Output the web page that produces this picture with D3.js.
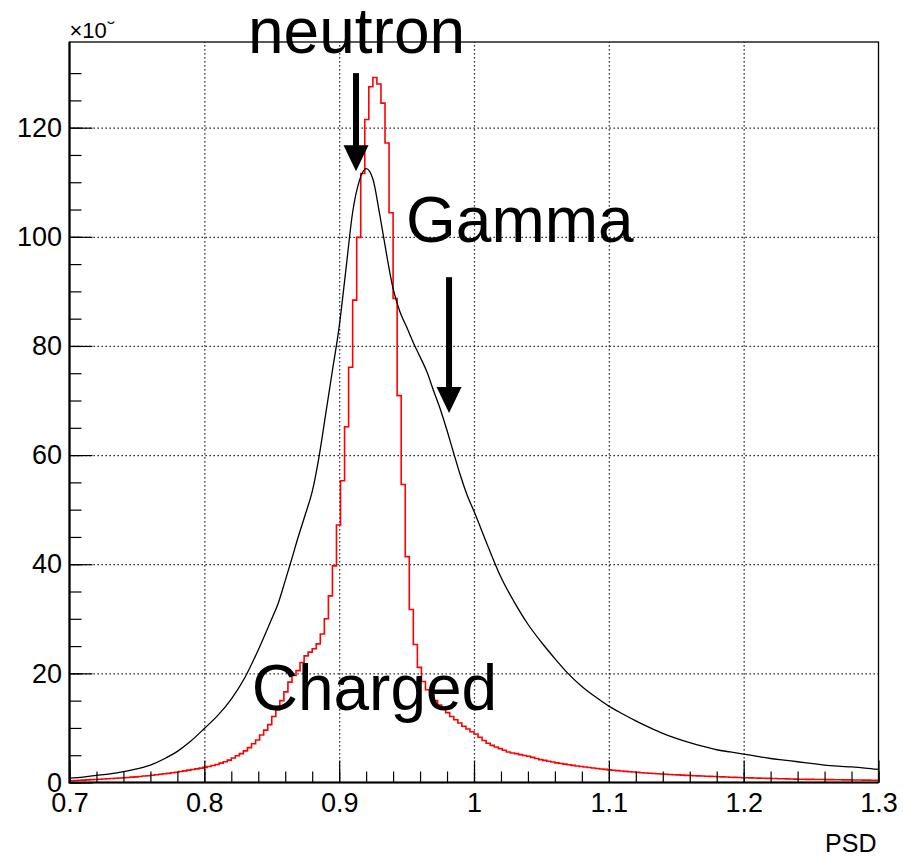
<!DOCTYPE html>
<html>
<head>
<meta charset="utf-8">
<script src="https://cdn.jsdelivr.net/npm/d3@7"></script>
<style>
  html, body { margin: 0; padding: 0; background: #fff; }
  svg { display: block; font-family: "Liberation Sans", Arial, Helvetica, sans-serif; }
</style>
</head>
<body>
<svg id="psd-chart"></svg>
<script>
// red histogram: 200 bins, 0.003 wide, starting at PSD = 0.7
const binStart = 0.7;
const binWidth = 0.003;
const chargedCounts = [
  0.33, 0.37, 0.41, 0.44, 0.48, 0.52, 0.56, 0.60, 0.64, 0.68,
  0.72, 0.77, 0.82, 0.87, 0.92, 0.98, 1.04, 1.11, 1.18, 1.25,
  1.33, 1.41, 1.50, 1.59, 1.68, 1.78, 1.89, 2.01, 2.13, 2.26,
  2.38, 2.50, 2.64, 2.78, 2.94, 3.11, 3.30, 3.55, 3.80, 4.10,
  4.50, 4.90, 5.30, 5.80, 6.40, 7.10, 7.80, 8.70, 9.60, 10.6,
  12.1, 13.3, 15.0, 16.6, 18.4, 19.6, 20.5, 22.0, 23.2, 23.9,
  24.5, 25.4, 27.2, 30.0, 34.2, 39.7, 47.2, 55.3, 65.2, 76.1,
  88.4, 99.9, 111.6, 121.5, 127.5, 129.2, 128.0, 124.5, 117.2, 104.4,
  88.7, 70.9, 54.6, 41.4, 31.7, 25.3, 21.1, 18.5, 17.0, 15.9,
  15.0, 14.2, 13.5, 12.8, 12.1, 11.5, 10.9, 10.3, 9.8, 9.3,
  8.9, 8.3, 7.7, 7.2, 6.8, 6.5, 6.2, 5.9, 5.6, 5.4,
  5.3, 5.1, 4.95, 4.8, 4.6, 4.4, 4.2, 4.05, 3.9, 3.75,
  3.6, 3.48, 3.36, 3.25, 3.14, 3.03, 2.93, 2.83, 2.74, 2.65,
  2.56, 2.48, 2.40, 2.32, 2.25, 2.18, 2.11, 2.04, 1.98, 1.92,
  1.86, 1.80, 1.75, 1.70, 1.65, 1.60, 1.55, 1.51, 1.47, 1.43,
  1.39, 1.35, 1.31, 1.27, 1.24, 1.21, 1.18, 1.15, 1.12, 1.09,
  1.06, 1.03, 1.00, 0.97, 0.94, 0.91, 0.88, 0.86, 0.84, 0.82,
  0.80, 0.78, 0.76, 0.74, 0.72, 0.70, 0.68, 0.66, 0.64, 0.62,
  0.60, 0.59, 0.58, 0.57, 0.56, 0.55, 0.54, 0.53, 0.52, 0.51,
  0.50, 0.49, 0.48, 0.47, 0.46, 0.45, 0.44, 0.43, 0.42, 0.41,
];

// black curve, read at these PSD values
const allPsd = [
  0.700, 0.710, 0.720, 0.730, 0.740, 0.750, 0.760, 0.770, 0.780, 0.790,
  0.800, 0.810, 0.820, 0.830, 0.840, 0.850, 0.855, 0.860, 0.865, 0.870,
  0.875, 0.880, 0.885, 0.890, 0.895, 0.900, 0.905, 0.910, 0.915, 0.920,
  0.925, 0.930, 0.935, 0.940, 0.945, 0.950, 0.955, 0.960, 0.965, 0.970,
  0.975, 0.980, 0.985, 0.990, 0.995, 1.000, 1.010, 1.020, 1.030, 1.040,
  1.050, 1.060, 1.070, 1.080, 1.090, 1.100, 1.110, 1.120, 1.130, 1.140,
  1.150, 1.160, 1.170, 1.180, 1.190, 1.200, 1.210, 1.220, 1.230, 1.240,
  1.250, 1.260, 1.270, 1.280, 1.290, 1.300,
];
const allCounts = [
  0.8, 1.0, 1.3, 1.6, 2.0, 2.5, 3.2, 4.3, 5.7, 7.6,
  9.9, 12.3, 15.3, 19.2, 24.3, 30.0, 33.0, 37.0, 41.1, 45.3,
  49.2, 53.3, 59.6, 67.5, 75.5, 83.5, 94.0, 104.5, 110.3, 112.5,
  110.6, 104.2, 97.0, 90.5, 86.3, 83.5, 80.6, 78.0, 75.3, 71.8,
  68.4, 64.5, 60.3, 56.2, 52.6, 49.7, 43.5, 37.6, 33.0, 29.0,
  25.7, 22.7, 19.9, 17.6, 15.7, 14.0, 12.6, 11.3, 10.1, 9.0,
  8.1, 7.3, 6.6, 6.0, 5.6, 5.2, 4.8, 4.4, 4.1, 3.8,
  3.5, 3.2, 3.0, 2.85, 2.65, 2.4,
];

const xMajorTicks = [0.7, 0.8, 0.9, 1.0, 1.1, 1.2, 1.3];
const xTickLabels = ["0.7", "0.8", "0.9", "1", "1.1", "1.2", "1.3"];
const yMajorTicks = [0, 20, 40, 60, 80, 100, 120];
const yTickLabels = ["0", "20", "40", "60", "80", "100", "120"];
const annotationLabels = ["neutron", "Gamma", "Charged"];

const width = 903;
const height = 860;
const margin = { top: 42, right: 24.5, bottom: 77.5, left: 69.5 };
const innerWidth = width - margin.left - margin.right;
const innerHeight = height - margin.top - margin.bottom;

const svg = d3.select("#psd-chart").attr("width", width).attr("height", height);
const chart = svg
  .append("g")
  .attr("transform", `translate(${margin.left},${margin.top})`);

const x = d3.scaleLinear().domain([0.7, 1.3]).range([0, innerWidth]);
const y = d3.scaleLinear().domain([0, 135.7]).range([innerHeight, 0]);

// lines only, no labels (grid and minor ticks)
const bareTicks = (g) => {
  g.select(".domain").remove();
  g.selectAll("text").remove();
};

// dotted grid
const gridStyle = (g) => {
  bareTicks(g);
  g.selectAll("line")
    .attr("stroke", "#000")
    .attr("stroke-width", 1.3)
    .attr("stroke-dasharray", "1.3,2.7");
};

chart
  .append("g")
  .attr("transform", `translate(0,${innerHeight})`)
  .call(d3.axisBottom(x).tickValues(xMajorTicks.slice(1, -1)).tickSize(-innerHeight))
  .call(gridStyle);

chart
  .append("g")
  .call(d3.axisLeft(y).tickValues(yMajorTicks.slice(1)).tickSize(-innerWidth))
  .call(gridStyle);

// charged histogram (steps)
const chargedBins = chargedCounts.map((count, i) => ({ psd: binStart + i * binWidth, count }));
chargedBins.push({
  psd: binStart + chargedCounts.length * binWidth,
  count: chargedCounts[chargedCounts.length - 1],
});

const stepLine = d3
  .line()
  .x(({ psd }) => x(psd))
  .y(({ count }) => y(count))
  .curve(d3.curveStepAfter);

chart
  .append("path")
  .datum(chargedBins)
  .attr("d", stepLine)
  .attr("fill", "none")
  .attr("stroke", "#ff0000")
  .attr("stroke-width", 1.6);

// all events curve
const allLine = d3
  .line()
  .x((d, i) => x(allPsd[i]))
  .y((d) => y(d))
  .curve(d3.curveMonotoneX);

chart
  .append("path")
  .datum(allCounts)
  .attr("d", allLine)
  .attr("fill", "none")
  .attr("stroke", "#000")
  .attr("stroke-width", 1.3);

// ticks
const tickStyle = (g) => {
  g.select(".domain").remove();
  g.selectAll("line").attr("stroke", "#000").attr("stroke-width", 1.2);
  g.selectAll("text").attr("fill", "#000").attr("font-size", 27).attr("font-family", null);
};

chart
  .append("g")
  .attr("transform", `translate(0,${innerHeight})`)
  .call(d3.axisBottom(x).tickValues(d3.range(0.7, 1.3001, 0.02)).tickSize(-11))
  .call(bareTicks)
  .call(tickStyle);

chart
  .append("g")
  .attr("transform", `translate(0,${innerHeight})`)
  .call(
    d3.axisBottom(x).tickValues(xMajorTicks).tickSize(-22).tickPadding(10)
      .tickFormat((d, i) => xTickLabels[i]),
  )
  .call(tickStyle);

chart
  .append("g")
  .call(d3.axisLeft(y).tickValues(d3.range(0, 135, 5)).tickSize(-12))
  .call(bareTicks)
  .call(tickStyle);

chart
  .append("g")
  .call(
    d3.axisLeft(y).tickValues(yMajorTicks).tickSize(-23).tickPadding(7.5)
      .tickFormat((d, i) => yTickLabels[i]),
  )
  .call(tickStyle);

// frame
chart
  .append("rect")
  .attr("width", innerWidth)
  .attr("height", innerHeight)
  .attr("fill", "none")
  .attr("stroke", "#000")
  .attr("stroke-width", 1.3);

chart
  .append("path")
  .attr("d", `M0,0V${innerHeight}H${innerWidth}`)
  .attr("fill", "none")
  .attr("stroke", "#000")
  .attr("stroke-width", 2.2);

// axis title and exponent
chart
  .append("text")
  .attr("x", innerWidth - 2)
  .attr("y", innerHeight + 69.5)
  .attr("text-anchor", "end")
  .attr("font-size", 25)
  .text("PSD");

svg
  .append("clipPath")
  .attr("id", "exp-clip")
  .append("rect")
  .attr("x", 0)
  .attr("y", 21.5)
  .attr("width", 200)
  .attr("height", 30);

const expLabel = svg
  .append("text")
  .attr("x", margin.left)
  .attr("y", 38.3)
  .attr("font-size", 22)
  .attr("clip-path", "url(#exp-clip)");
expLabel.append("tspan").text("×10");
expLabel.append("tspan").attr("dy", -14).attr("font-size", 15).text("3");

// annotations, anchored in data coordinates
const annotationSpots = [
  { psd: 0.8324, count: 133.7 },
  { psd: 0.9496, count: 99.0 },
  { psd: 0.8351, count: 13.3 },
];

chart
  .selectAll("text.annotation")
  .data(annotationLabels)
  .join("text")
  .attr("class", "annotation")
  .attr("x", (d, i) => x(annotationSpots[i].psd))
  .attr("y", (d, i) => y(annotationSpots[i].count))
  .attr("font-size", 64)
  .attr("fill", "#000")
  .text((d) => d);

const arrowSpots = [
  { psd: 0.9125, from: 130.0, to: 112.0 },
  { psd: 0.9815, from: 92.6, to: 67.7 },
];
const headLength = 26;
const headHalf = 12.5;

const arrowGroups = chart.selectAll("g.arrow").data(arrowSpots).join("g").attr("class", "arrow");

arrowGroups
  .append("rect")
  .attr("x", ({ psd }) => x(psd) - 3)
  .attr("y", ({ from }) => y(from))
  .attr("width", 6)
  .attr("height", ({ from, to }) => y(to) - y(from) - headLength + 1)
  .attr("fill", "#000");

arrowGroups
  .append("path")
  .attr("d", ({ psd, to }) => {
    const px = x(psd);
    const tip = y(to);
    return `M${px - headHalf},${tip - headLength}L${px + headHalf},${tip - headLength}L${px},${tip}Z`;
  })
  .attr("fill", "#000");
</script>
</body>
</html>
